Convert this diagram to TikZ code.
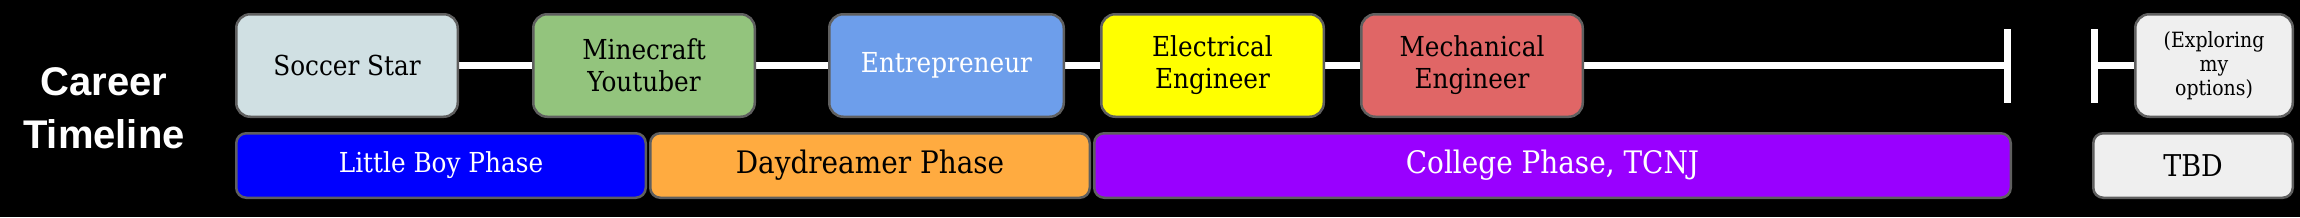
\documentclass[tikz,border=0pt]{standalone}
\usepackage{fontspec}
\newfontfamily\boxfont{DejaVu Serif}[FakeStretch=0.9]
\newfontfamily\titlefont{Liberation Sans}
\pgfdeclarelayer{bg}
\pgfsetlayers{bg,main}
\definecolor{edge}{HTML}{5F5F5F}
\definecolor{soccerc}{HTML}{D0E0E3}
\definecolor{minec}{HTML}{93C47D}
\definecolor{entrec}{HTML}{6D9EEB}
\definecolor{elecc}{HTML}{FFFF00}
\definecolor{mechc}{HTML}{E06666}
\definecolor{greyc}{HTML}{EFEFEF}
\definecolor{boyc}{HTML}{0000FF}
\definecolor{dayc}{HTML}{FFAB40}
\definecolor{collc}{HTML}{9900FF}
\begin{document}
\begin{tikzpicture}[x=1pt,y=-1pt,
  card/.style={draw=edge, line width=2.5pt, rounded corners=14pt, inner sep=0pt,
    align=center, minimum height=102.5pt, font=\boxfont\fontsize{27.5}{32}\selectfont},
  barbox/.style={card, rounded corners=10pt, minimum height=64.5pt},
  bigtext/.style={font=\boxfont\fontsize{31}{36}\selectfont},
  link/.style={draw=white, line width=7pt}]
\useasboundingbox (0,0) rectangle (2300,217);
\begin{pgfonlayer}{bg}
\fill[black] (0,0) rectangle (2300,217);
\end{pgfonlayer}
\node[text=white, align=center, inner sep=0pt,
  font=\titlefont\bfseries\fontsize{40}{53}\selectfont] (title) at (104,108) {Career\\Timeline};
\node[card, fill=soccerc, minimum width=221.5pt] (soccer) at (347,65.5) {Soccer Star};
\node[card, fill=minec, minimum width=221.5pt] (mine) at (644,65.5) {Minecraft\\Youtuber};
\node[card, fill=entrec, text=white, minimum width=234.5pt] (entre) at (946.5,65.5) {Entrepreneur};
\node[card, fill=elecc, minimum width=222.5pt] (elec) at (1212.5,65.5) {Electrical\\Engineer};
\node[card, fill=mechc, minimum width=221.5pt] (mech) at (1472,65.5) {Mechanical\\Engineer};
\node[card, fill=greyc, minimum width=157.5pt,
  font=\boxfont\fontsize{21}{24}\selectfont] (explore) at (2214,65.5) {(Exploring\\my\\options)};
\node[barbox, fill=boyc, text=white, minimum width=409.5pt] (boy) at (441,165.5) {Little Boy Phase};
\node[barbox, bigtext, fill=dayc, minimum width=439.5pt] (day) at (870,165.5) {Daydreamer Phase};
\node[barbox, bigtext, fill=collc, text=white, minimum width=916.5pt] (coll) at (1552.5,165.5) {College Phase, TCNJ};
\node[barbox, fill=greyc, minimum width=199.5pt,
  font=\boxfont\fontsize{30}{34}\selectfont] (tbd) at (2193,165.5) {TBD};
\coordinate (tickA) at (2007,65.5);
\coordinate (tickB) at (2094,65.5);
\begin{pgfonlayer}{bg}
\draw[link] (soccer.east) -- (mine.west);
\draw[link] (mine.east) -- (entre.west);
\draw[link] (entre.east) -- (elec.west);
\draw[link] (elec.east) -- (mech.west);
\draw[link] (mech.east) -- (tickA);
\draw[link] (tickB) -- (explore.west);
\draw[link] ([yshift=-37pt]tickA) -- ([yshift=37pt]tickA);
\draw[link] ([yshift=-37pt]tickB) -- ([yshift=37pt]tickB);
\end{pgfonlayer}
\end{tikzpicture}
\end{document}
